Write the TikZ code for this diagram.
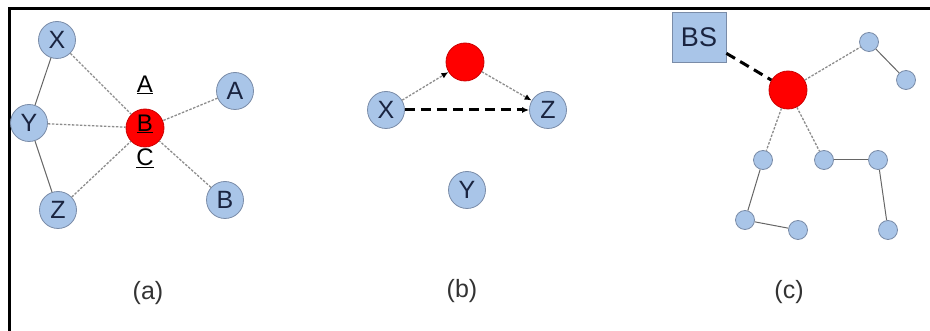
\documentclass[tikz,border=0pt]{standalone}
\usepackage{fontspec}
\setmainfont{Liberation Sans}
\usetikzlibrary{arrows.meta}
\definecolor{nodeblue}{HTML}{A9C5E8}
\definecolor{nodeedge}{HTML}{7A8CA8}
\definecolor{hubred}{HTML}{FF0000}
\definecolor{navytext}{HTML}{1A2440}
\begin{document}
\begin{tikzpicture}[x=1pt,y=-1pt,
  nd/.style={circle,fill=nodeblue,draw=nodeedge,line width=0.8pt,minimum size=37pt,inner sep=0pt,font=\fontsize{25}{25}\selectfont,text=navytext},
  hub/.style={circle,fill=hubred,draw=red!80!black,line width=0.8pt,minimum size=38pt,inner sep=0pt},
  sm/.style={circle,fill=nodeblue,draw=nodeedge,line width=0.8pt,minimum size=19pt,inner sep=0pt},
  bsbox/.style={rectangle,fill=nodeblue,draw=nodeedge,line width=0.8pt,minimum width=54pt,minimum height=50pt,inner sep=0pt,font=\fontsize{27}{27}\selectfont,text=navytext},
  link/.style={draw=black!60,line width=1pt},
  weak/.style={draw=black!45,line width=1.3pt,dash pattern=on 2.5pt off 1.5pt},
  strong/.style={draw=black,line width=3pt,dash pattern=on 10pt off 6pt},
  tip/.style={-{Latex[length=7pt,width=6pt,color=black]}},
  captext/.style={font=\fontsize{25}{25}\selectfont,text=black!80},
  ul/.style={font=\fontsize{24}{24}\selectfont,inner sep=0pt,text=black}
]
\useasboundingbox (0,0) rectangle (930,331);
\draw[line width=3pt] (9,331) -- (9,8.5) -- (930,8.5);

% panel (a)
\node[nd] (aX) at (57,40) {X};
\node[nd] (aY) at (29,123) {Y};
\node[nd] (aZ) at (58,210) {Z};
\node[nd] (aA) at (235,91) {A};
\node[nd] (aB) at (225,200) {B};
\node[hub] (aH) at (145,128) {};
\draw[link] (aX) -- (aY);
\draw[link] (aY) -- (aZ);
\draw[weak] (aX) -- (aH);
\draw[weak] (aY) -- (aH);
\draw[weak] (aZ) -- (aH);
\draw[weak] (aA) -- (aH);
\draw[weak] (aB) -- (aH);
\node[ul] (lA) at (145,85) {\underline{A}};
\node[ul] (lB) at (145,124) {\underline{B}};
\node[ul] (lC) at (145,158) {\underline{C}};
\node[captext] (capa) at (148,293) {(a)};

% panel (b)
\node[hub] (bH) at (465,62) {};
\node[nd] (bX) at (386,110) {X};
\node[nd] (bZ) at (548,110) {Z};
\node[nd] (bY) at (467,190) {Y};
\draw[weak,tip] (bX) -- (bH);
\draw[weak,tip] (bH) -- (bZ);
\draw[strong,tip] (bX) -- (bZ);
\node[captext] (capb) at (462,291) {(b)};

% panel (c)
\node[bsbox] (BS) at (699,37) {BS};
\node[hub] (cH) at (788,90) {};
\node[sm] (c1) at (869,42) {};
\node[sm] (c2) at (906,80) {};
\node[sm] (c3) at (763,160) {};
\node[sm] (c4) at (824,160) {};
\node[sm] (c5) at (878,160) {};
\node[sm] (c6) at (745,220) {};
\node[sm] (c7) at (798,230) {};
\node[sm] (c8) at (888,230) {};
\draw[strong] (BS) -- (cH);
\draw[weak] (cH) -- (c1);
\draw[weak] (cH) -- (c3);
\draw[weak] (cH) -- (c4);
\draw[link] (c1) -- (c2);
\draw[link] (c3) -- (c6);
\draw[link] (c6) -- (c7);
\draw[link] (c4) -- (c5);
\draw[link] (c5) -- (c8);
\node[captext] (capc) at (789,292) {(c)};
\end{tikzpicture}
\end{document}
